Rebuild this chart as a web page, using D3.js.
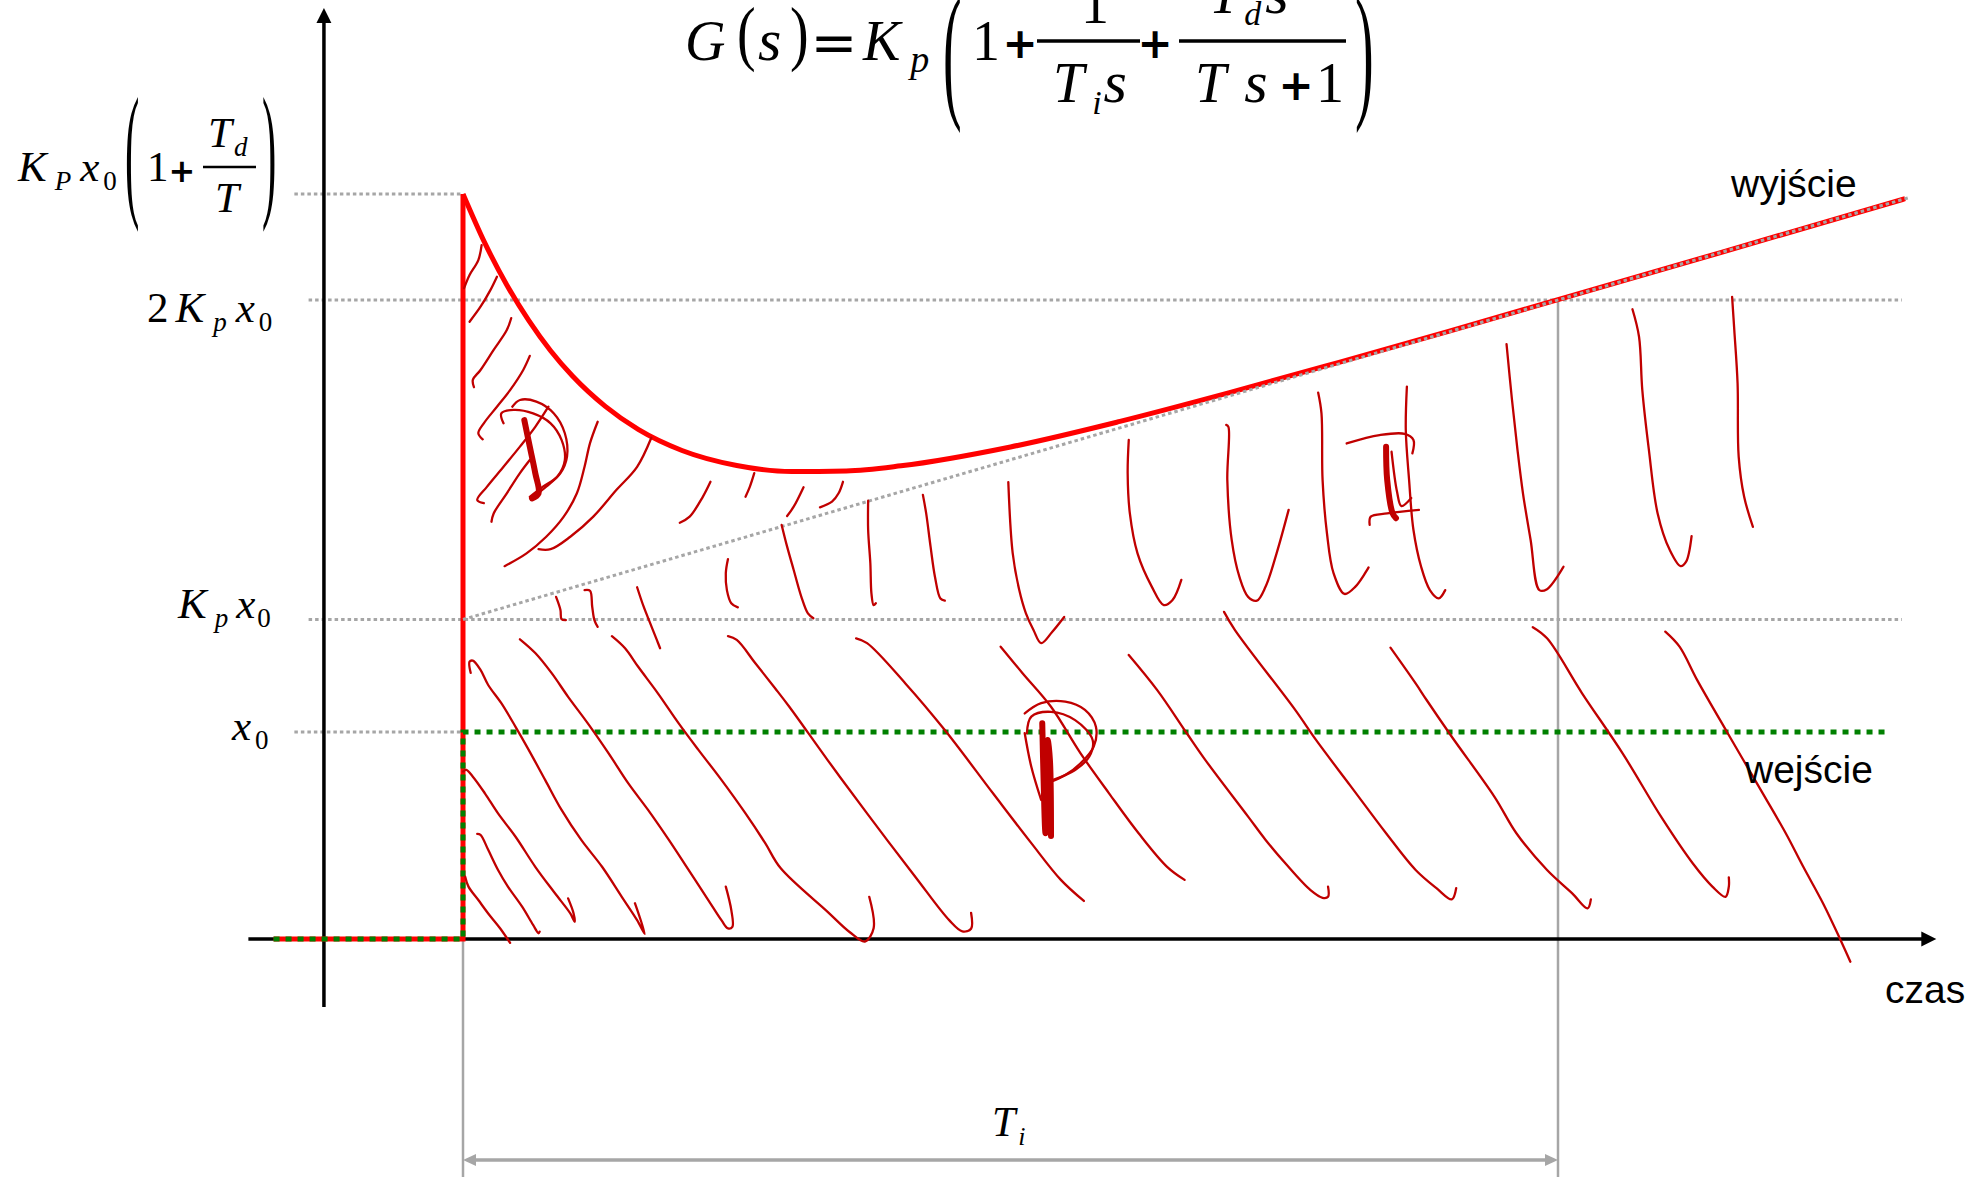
<!DOCTYPE html>
<html>
<head>
<meta charset="utf-8">
<script src="https://cdn.jsdelivr.net/npm/d3@7"></script>
<style>
  html, body { margin: 0; padding: 0; background: #fff; }
  svg { display: block; }
  .m { font-family: "Liberation Serif", serif; font-style: italic; }
  .r { font-family: "Liberation Serif", serif; font-style: normal; }
  .op { font-family: "DejaVu Sans", sans-serif; font-weight: bold; }
  .eq { font-family: "DejaVu Sans", sans-serif; }
  .lbl { font-family: "Liberation Sans", Arial, sans-serif; font-size: 39px; }
</style>
</head>
<body>
<script>
// Values in % of Kp*x0, time in % of Ti
const x0Level    = 64.8
const kpLevel    = 100
const twoKpLevel = 200
const peakLevel  = 233.2
const tiTime     = 100

// output after the step (red curve)
const outTime  = [0, 2, 4, 6, 8, 10, 13, 16, 20, 25, 30, 35, 40, 50, 60, 70, 80, 90, 100, 115, 131.7]
const outValue = [233.2, 217.8, 204.7, 193.6, 184.1, 176.2, 166.7, 159.5, 152.9, 148.2, 146.3, 146.5, 148.1, 154.0, 162.0, 171.0, 180.5, 190.2, 200.1, 215.0, 231.7]
// output before / at the step
const stepTime  = [-17.3, 0, 0]
const stepValue = [0, 0, peakLevel]
// input (green)
const inTime  = [-17.3, 0, 0, 130.2]
const inValue = [0, 0, x0Level, x0Level]
// asymptote Kp x0 (1 + t/Ti)
const asymTime  = [0, 132.1]
const asymValue = [100, 232.1]
// dotted guides
const guideFrom  = [-15.4, -14.1, -14.1, -15.4]
const guideTo    = [0, 131.4, 131.4, 0]
const guideLevel = [peakLevel, twoKpLevel, kpLevel, x0Level]
// axes
const timeAxis    = [-19.6, 134.0]
const valueAxis   = [-21.3, 289.5]
const valueAxisAt = -12.7
const dropBottom  = -74.5
const tiArrowAt   = -69.2

// hand drawn hatching, [t, value]
const hatchP = [
  [[0.7,83.3],[0.6,86.8],[0.9,87.1],[1.6,84.2],[2.3,79.5],[3.5,73.8],[4.8,66.4],[6.0,59.2],[7.5,49.8],[9.0,40.4],[10.8,31.0],[12.7,22.6],[14.5,13.2],[15.9,5.9],[16.6,1.6],[15.7,11.2]],
  [[5.2,93.8],[6.6,89.5],[8.1,83.2],[9.6,75.8],[11.4,67.5],[13.3,58.1],[15.1,48.7],[16.9,40.4],[18.8,31.0],[20.6,21.6],[22.4,12.2],[23.6,5.9],[24.2,3.3],[24.6,3.8],[24.5,9.1],[24.0,16.4]],
  [[13.6,94.8],[14.8,91.0],[16.0,85.2],[17.8,76.9],[19.7,67.5],[21.5,59.2],[23.6,49.8],[25.8,39.3],[27.6,30.0],[29.0,22.2],[33.3,8.5],[35.3,2.2],[36.7,-0.8],[37.5,3.4],[37.1,13.2]],
  [[24.2,94.8],[25.0,93.6],[26.7,86.3],[28.5,78.5],[29.8,72.7],[33.3,56.0],[36.9,39.3],[41.3,19.5],[44.4,5.9],[45.6,2.4],[46.4,3.2],[46.4,8.2]],
  [[35.9,94.1],[36.9,92.6],[40.4,80.0],[44.0,65.4],[48.4,45.6],[51.9,30.0],[54.6,18.5],[56.7,11.9]],
  [[49.1,91.5],[51.1,83.2],[53.7,72.7],[56.4,58.1],[59.0,45.6],[61.7,33.1],[64.3,22.6],[65.9,18.5]],
  [[60.8,88.9],[63.4,77.9],[66.1,64.4],[67.8,56.0],[71.7,38.3],[73.3,31.0],[75.1,23.7],[77.4,15.3],[78.5,12.9],[79.0,13.2],[79.0,16.4]],
  [[69.5,102.4],[70.5,96.7],[76.0,71.7],[77.9,62.3],[81.1,47.7],[84.3,33.1],[87.0,21.6],[88.9,15.9],[90.3,12.4],[90.7,15.9]],
  [[84.7,91.2],[87.0,80.0],[88.0,74.8],[90.3,63.3],[94.2,44.5],[96.2,33.1],[99.0,21.6],[101.3,14.3],[102.7,9.6],[103.0,12.4]],
  [[97.7,97.6],[99.0,94.1],[102.2,76.9],[105.9,58.1],[109.5,37.8],[112.3,23.7],[114.1,16.4],[115.3,13.2],[115.6,16.4],[115.6,19.3]],
  [[109.8,96.2],[111.1,91.5],[112.7,81.1],[115.5,64.4],[118.7,45.6],[120.8,33.1],[122.4,22.6],[124.2,11.2],[125.8,-0.3],[126.7,-7.1]],
  [[0.0,52.4],[0.3,52.9],[0.9,50.8],[2.0,45.6],[3.2,39.3],[4.8,32.0],[6.6,22.6],[8.4,14.3],[9.8,8.0],[10.2,5.4],[10.1,8.0],[9.6,12.7]],
  [[1.3,32.9],[1.6,32.6],[2.3,27.9],[3.2,21.6],[4.1,16.4],[5.4,10.1],[6.4,4.4],[6.9,1.8],[7.0,2.3]],
  [[0.2,19.5],[0.5,16.4],[1.4,12.2],[2.3,8.0],[3.4,3.3],[4.3,-1.2]]
]
const hatchI = [
  [[8.5,107.1],[8.9,103.0],[9.0,100.1],[9.4,99.8]],
  [[11.1,109.2],[11.6,109.0],[11.8,104.0],[12.0,99.8],[12.3,97.7]],
  [[15.9,110.1],[16.5,104.0],[17.1,98.8],[17.7,93.6],[18.0,91.0]],
  [[24.2,118.9],[24.0,114.5],[24.1,109.2],[24.5,105.1],[25.1,103.8]],
  [[29.1,129.6],[29.6,122.8],[30.2,115.5],[30.9,107.1],[31.5,101.9],[32.0,100.4]],
  [[37.0,137.2],[37.0,128.0],[37.2,117.6],[37.3,108.2],[37.5,104.5],[37.7,105.1]],
  [[42.0,139.0],[42.3,133.2],[42.7,122.8],[43.1,113.4],[43.6,106.6],[44.0,105.9]],
  [[49.8,143.0],[50.2,120.8],[50.8,109.2],[51.4,102.0],[52.1,96.7],[52.8,92.6],[53.8,96.1],[54.9,100.8]],
  [[60.8,156.2],[60.7,145.8],[60.9,133.2],[61.6,120.7],[62.9,110.3],[64.0,104.5],[64.8,106.1],[65.6,112.4]],
  [[69.7,160.9],[69.9,160.3],[69.8,143.7],[70.2,124.9],[70.9,113.4],[71.7,107.1],[72.5,105.9],[73.3,110.3],[74.3,120.7],[75.4,134.3]],
  [[78.1,171.0],[78.4,164.5],[78.5,143.7],[78.9,127.0],[79.5,114.5],[80.5,108.0],[81.5,110.3],[82.7,116.3]],
  [[86.2,172.9],[86.1,159.3],[86.4,143.7],[86.8,128.0],[87.5,116.5],[88.3,109.2],[89.1,106.6],[89.7,109.2]],
  [[95.3,186.2],[95.8,168.7],[96.3,153.1],[96.8,139.5],[97.5,124.9],[98.3,109.2],[99.0,109.5],[100.5,116.5]],
  [[106.8,197.1],[107.4,188.5],[107.7,171.8],[108.3,153.1],[109.1,133.2],[110.2,121.8],[111.2,116.7],[111.7,118.1],[112.2,126.1]],
  [[115.9,201.0],[116.1,190.6],[116.4,173.9],[116.5,151.0],[117.0,138.4],[117.8,129.0]]
]
const hatchD = [
  [[1.7,217.2],[1.4,212.5],[0.6,207.8],[0.1,203.7]],
  [[3.1,207.3],[2.5,203.1],[1.6,197.9],[0.6,193.2]],
  [[4.4,194.3],[4.0,190.6],[2.8,184.4],[1.6,178.1],[0.9,175.0],[1.0,172.7]],
  [[6.1,182.5],[5.5,178.1],[4.3,171.8],[3.1,166.6],[1.9,161.4],[1.4,158.3],[1.8,156.4]],
  [[1.9,136.4],[1.3,137.4],[2.2,141.6],[3.7,147.8],[5.2,154.1],[6.6,160.3],[7.8,166.6]],
  [[2.6,130.6],[2.8,133.2],[4.0,139.5],[5.2,145.8],[6.1,149.9]],
  [[3.8,116.7],[5.8,120.7],[7.6,125.9],[9.2,132.2],[10.4,139.5],[11.1,147.8],[11.6,155.2],[12.3,161.9]],
  [[6.9,122.0],[8.0,122.0],[9.8,125.9],[11.9,132.2],[14.0,140.5],[15.9,147.8],[17.2,156.9]],
  [[19.8,130.3],[20.7,132.2],[21.9,138.4],[22.6,143.1]],
  [[25.8,138.4],[26.2,141.6],[26.6,145.8]],
  [[29.6,132.4],[30.2,135.3],[31.1,141.4]],
  [[32.6,135.1],[33.7,136.9],[34.3,139.5],[34.7,143.1]]
]
// handwritten letters D, P, I
const letterStems = [
  [[5.6,162.4],[6.1,154.1],[6.6,145.8],[6.9,139.5],[6.3,137.9]],
  [[52.9,67.5],[53.0,52.9],[53.2,33.1],[53.4,46.6],[53.4,62.3],[53.6,56.0],[53.7,32.2]],
  [[84.3,154.1],[84.4,143.7],[84.9,133.2],[85.2,131.7]]
]
const letterLoops = [
  [[3.7,161.4],[3.5,164.5],[4.6,165.6],[6.4,164.5],[8.0,161.4],[9.0,156.2],[9.3,149.9],[8.6,144.7],[7.3,141.6],[6.1,138.4]],
  [[4.5,166.6],[5.2,168.7],[6.7,168.2],[8.3,164.5],[9.3,158.3],[9.5,151.0],[8.9,145.8],[7.6,141.6],[6.4,138.4]],
  [[51.3,70.6],[52.8,73.8],[55.0,74.3],[56.8,71.7],[57.8,66.4],[57.6,60.2],[56.4,55.0],[55.0,51.3],[53.7,49.2]],
  [[51.5,64.4],[51.9,69.6],[53.7,71.1],[55.9,68.5],[57.5,62.3],[57.2,57.1],[55.9,52.9],[53.9,49.8]],
  [[51.3,64.4],[51.9,53.9],[52.8,43.5]],
  [[80.7,155.1],[83.7,157.7],[86.0,158.1],[86.8,156.2],[86.7,152.0]],
  [[84.8,152.5],[85.3,140.0],[85.7,135.5],[86.6,138.0]],
  [[82.8,129.6],[82.9,132.2],[84.4,133.2],[87.3,134.3]]
]

const W = 1986, H = 1177

const x = d3.scaleLinear().domain([0, tiTime]).range([463, 1558])
const y = d3.scaleLinear().domain([0, twoKpLevel]).range([939, 300])

const svg = d3.select('body').append('svg').attr('width', W).attr('height', H)
svg.append('rect').attr('width', W).attr('height', H).attr('fill', '#fff')

// Markers
const defs = svg.append('defs')
defs.append('marker').attr('id', 'arrowBlack')
    .attr('viewBox', '0 -8 16 16').attr('refX', 9).attr('refY', 0)
    .attr('markerWidth', 16).attr('markerHeight', 16)
    .attr('markerUnits', 'userSpaceOnUse').attr('orient', 'auto')
    .append('path').attr('d', 'M0,-7.5L15,0L0,7.5Z').attr('fill', '#000')
defs.append('marker').attr('id', 'arrowGrey')
    .attr('viewBox', '0 -7 14 14').attr('refX', 8).attr('refY', 0)
    .attr('markerWidth', 14).attr('markerHeight', 14)
    .attr('markerUnits', 'userSpaceOnUse').attr('orient', 'auto-start-reverse')
    .append('path').attr('d', 'M0,-6L13,0L0,6Z').attr('fill', '#a6a6a6')

const line = d3.line().x(d => x(d[0])).y(d => y(d[1]))
const zip  = (a, b) => a.map((v, i) => [v, b[i]])

// Dotted guides
svg.append('g').selectAll('line')
   .data(guideLevel)
   .enter()
   .append('line')
   .attr('x1', (d, i) => x(guideFrom[i]))
   .attr('x2', (d, i) => x(guideTo[i]))
   .attr('y1', d => y(d))
   .attr('y2', d => y(d))
   .attr('stroke', '#a6a6a6')
   .attr('stroke-width', 3)
   .attr('stroke-dasharray', '3.5,3')

// Grey drop lines and Ti dimension
svg.append('g').selectAll('line')
   .data([[0, 0], [tiTime, twoKpLevel]])
   .enter()
   .append('line')
   .attr('x1', d => x(d[0])).attr('x2', d => x(d[0]))
   .attr('y1', d => y(d[1])).attr('y2', y(dropBottom))
   .attr('stroke', '#a6a6a6')
   .attr('stroke-width', 2.5)
svg.append('line')
   .attr('x1', x(0) + 5).attr('x2', x(tiTime) - 5)
   .attr('y1', y(tiArrowAt)).attr('y2', y(tiArrowAt))
   .attr('stroke', '#a6a6a6').attr('stroke-width', 3.5)
   .attr('marker-start', 'url(#arrowGrey)').attr('marker-end', 'url(#arrowGrey)')

// Axes
svg.append('line')
   .attr('x1', x(timeAxis[0])).attr('x2', x(timeAxis[1]))
   .attr('y1', y(0)).attr('y2', y(0))
   .attr('stroke', '#000').attr('stroke-width', 3.5)
   .attr('marker-end', 'url(#arrowBlack)')
svg.append('line')
   .attr('x1', x(valueAxisAt)).attr('x2', x(valueAxisAt))
   .attr('y1', y(valueAxis[0])).attr('y2', y(valueAxis[1]))
   .attr('stroke', '#000').attr('stroke-width', 3.5)
   .attr('marker-end', 'url(#arrowBlack)')

// Output (red)
svg.append('path')
   .attr('d', line(zip(stepTime, stepValue)))
   .attr('fill', 'none').attr('stroke', '#ff0000').attr('stroke-width', 5)
   .attr('stroke-linejoin', 'miter')
svg.append('path')
   .attr('d', line.curve(d3.curveMonotoneX)(zip(outTime, outValue)))
   .attr('fill', 'none').attr('stroke', '#ff0000').attr('stroke-width', 5)
line.curve(d3.curveLinear)

// Input (green, dashed)
svg.append('path')
   .attr('d', line(zip(inTime, inValue)))
   .attr('fill', 'none').attr('stroke', '#008000').attr('stroke-width', 5)
   .attr('stroke-dasharray', '6,6')

// Asymptote (grey dotted)
svg.append('path')
   .attr('d', line(zip(asymTime, asymValue)))
   .attr('fill', 'none').attr('stroke', '#a6a6a6').attr('stroke-width', 3)
   .attr('stroke-dasharray', '3.5,3')

// Hand drawn hatching
const pen = d3.line().x(d => x(d[0])).y(d => y(d[1])).curve(d3.curveCatmullRom.alpha(0.5))
svg.append('g').selectAll('path')
   .data(hatchP.concat(hatchI, hatchD, letterLoops))
   .enter()
   .append('path')
   .attr('d', pen)
   .attr('fill', 'none')
   .attr('stroke', '#c00000')
   .attr('stroke-width', 2.3)
   .attr('stroke-linecap', 'round')
   .attr('stroke-linejoin', 'round')
svg.append('g').selectAll('path')
   .data(letterStems)
   .enter()
   .append('path')
   .attr('d', pen)
   .attr('fill', 'none')
   .attr('stroke', '#c00000')
   .attr('stroke-width', 6)
   .attr('stroke-linecap', 'round')
   .attr('stroke-linejoin', 'round')

// Math text helpers
function mathText(x0, y0, size, runs, anchor) {
    const t = svg.append('text').attr('x', x0).attr('y', y0)
                 .attr('font-size', size).attr('text-anchor', anchor || 'start')
    let shift = 0
    runs.forEach(([s, kind, dx, fs]) => {
        const sub = kind[0] === 's'
        const off = sub ? Math.round(size * 0.22) : 0
        const ts = t.append('tspan').text(s)
                    .attr('dy', off - shift).attr('dx', dx || 0)
                    .attr('class', kind.endsWith('i') ? 'm' : 'r')
        if (sub) ts.attr('font-size', Math.round(size * 0.62))
        if (fs) ts.attr('font-size', fs)
        shift = off
    })
    return t
}
function op(ch, cx, base, size, cls) {
    svg.append('text').attr('class', cls || 'op').attr('x', cx).attr('y', base)
       .attr('text-anchor', 'middle').attr('font-size', size).text(ch)
}
function paren(ch, xl, top, bottom, size) {
    const s = (bottom - top) / (0.91 * size)
    const base = bottom - 0.215 * size * s
    svg.append('text').attr('class', 'r').attr('font-size', size)
       .attr('transform', `translate(${xl},${base}) scale(1,${s})`).text(ch)
}
function bar(x1, x2, yy, w) {
    svg.append('line').attr('x1', x1).attr('x2', x2).attr('y1', yy).attr('y2', yy)
       .attr('stroke', '#000').attr('stroke-width', w)
}

// Formula G(s)
mathText(685, 60, 56, [['G', 'i']])
paren('(', 737, 7, 72, 56)
mathText(758, 60, 60, [['s', 'i']])
paren(')', 790, 7, 72, 56)
op('=', 834, 62, 56, 'eq')
mathText(863, 60, 56, [['K', 'i'], ['p', 'si', 10, 38]])
paren('(', 943, -4, 133, 56)
mathText(972, 60, 56, [['1', 'r']])
op('+', 1020, 58, 42)
bar(1037, 1140, 41, 3.3)
mathText(1095, 23, 56, [['1', 'r']], 'middle')
mathText(1053, 102, 56, [['T', 'i'], ['i', 'si', 8, 34], ['s', 'i', 2, 60]])
op('+', 1155, 58, 42)
bar(1179, 1346, 41, 3.3)
mathText(1209, 13, 56, [['T', 'i'], ['d', 'si', 4, 34], ['s', 'i', 4, 60]])
mathText(1195, 102, 56, [['T', 'i'], ['s', 'i', 18, 60]])
op('+', 1296, 100, 42)
mathText(1316, 102, 56, [['1', 'r']])
paren(')', 1355, -4, 133, 56)

// Level labels
mathText(18, y(peakLevel) - 13, 43, [['K', 'i'], ['P', 'si', 8], ['x', 'i', 9], ['0', 'sr', 4]])
paren('(', 125, 97, 232, 43)
mathText(147, y(peakLevel) - 13, 43, [['1', 'r']])
op('+', 182, y(peakLevel) - 12, 32)
bar(203, 256, y(peakLevel) - 27, 2.5)
mathText(208, y(peakLevel) - 47, 43, [['T', 'i'], ['d', 'si', 2]])
mathText(215, y(peakLevel) + 18, 43, [['T', 'i']])
paren(')', 262, 97, 232, 43)

mathText(147, y(twoKpLevel) + 22, 43, [['2', 'r'], ['K', 'i', 7], ['p', 'si', 9], ['x', 'i', 9], ['0', 'sr', 4]])
mathText(178, y(kpLevel) - 2, 43, [['K', 'i'], ['p', 'si', 8], ['x', 'i', 8], ['0', 'sr', 2]])
mathText(232, y(x0Level) + 8, 43, [['x', 'i'], ['0', 'sr', 4]])

// Ti label
mathText(992, y(tiArrowAt) - 24, 42, [['T', 'i'], ['i', 'si', 3]])

// Word labels
svg.append('text').attr('class', 'lbl').attr('x', 1731).attr('y', 197).text('wyjście')
svg.append('text').attr('class', 'lbl').attr('x', 1745).attr('y', 783).text('wejście')
svg.append('text').attr('class', 'lbl').attr('x', 1885).attr('y', 1003).text('czas')
</script>
</body>
</html>
